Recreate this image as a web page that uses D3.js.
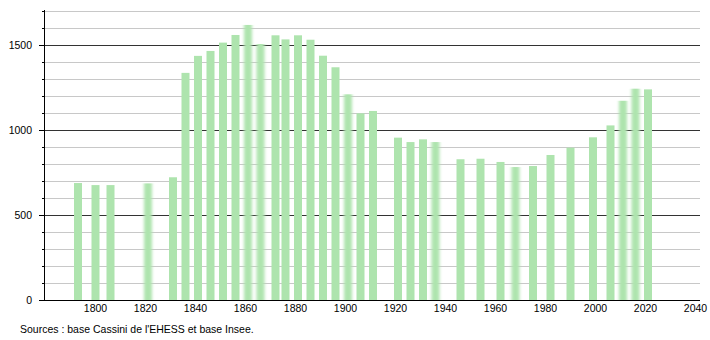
<!DOCTYPE html>
<html><head><meta charset="utf-8">
<script src="https://cdn.jsdelivr.net/npm/d3@7"></script>
<style>
body{margin:0;background:#fff;}
text{font-family:"Liberation Sans",Arial,sans-serif;}
</style></head>
<body>
<svg id="c" width="710" height="340"></svg>
<script>
const years = [1793,1800,1806,1821,1831,1836,1841,1846,1851,1856,1861,1866,1872,1876,1881,1886,1891,1896,1901,1906,1911,1921,1926,1931,1936,1946,1954,1962,1968,1975,1982,1990,1999,2006,2011,2016,2021];
const population = [688,676,676,686,722,1336,1436,1465,1514,1559,1618,1506,1557,1533,1557,1531,1437,1369,1210,1098,1112,955,929,945,929,828,831,812,782,788,853,896,957,1027,1172,1243,1239];
const xTicks = [1800,1820,1840,1860,1880,1900,1920,1940,1960,1980,2000,2020,2040];
const yTicks = [0,500,1000,1500];
const softYears = [1821,1861,1866,1901,1936,1968,2011,2016];
const sourceText = "Sources : base Cassini de l'EHESS et base Insee.";

const svg = d3.select("#c");
const x = d3.scaleLinear().domain([1780,2040]).range([45.5,695.5]);
const y = d3.scaleLinear().domain([0,1700]).range([300,11]);
const left = 44, right = 700;

const defs = svg.append("defs");
defs.append("filter").attr("id","soft").attr("x","-50%").attr("width","200%")
  .append("feGaussianBlur").attr("stdDeviation","1.6 0");

// gridlines
const minor = d3.range(100,1701,100).filter(v=>v%500!==0);
svg.append("g").selectAll("line").data(minor).join("line")
  .attr("x1",left).attr("x2",right).attr("y1",d=>Math.round(y(d))+0.5).attr("y2",d=>Math.round(y(d))+0.5)
  .attr("stroke","#c8c8c8").attr("stroke-width",1);
svg.append("g").selectAll("line").data(yTicks.filter(v=>v>0)).join("line")
  .attr("x1",left).attr("x2",right).attr("y1",d=>Math.round(y(d))+0.5).attr("y2",d=>Math.round(y(d))+0.5)
  .attr("stroke","#333").attr("stroke-width",1);

// bars
const data = years.map((yr,i)=>({yr, v:population[i]}));
svg.append("g").selectAll("rect").data(data).join("rect")
  .attr("x",d=>x(d.yr)-4).attr("width",8)
  .attr("y",d=>y(d.v)).attr("height",d=>y(0)-y(d.v))
  .attr("fill","#aee4ae")
  .attr("filter",d=>softYears.includes(d.yr)?"url(#soft)":null);

// y axis
const yMinorTicks = d3.range(0,1701,100);
svg.append("line").attr("x1",left+0.5).attr("x2",left+0.5).attr("y1",10).attr("y2",300).attr("stroke","#000");
svg.append("g").selectAll("line").data(yMinorTicks).join("line")
  .attr("x1",d=>d%500===0?left-5:left-2).attr("x2",left)
  .attr("y1",d=>Math.round(y(d))+0.5).attr("y2",d=>Math.round(y(d))+0.5).attr("stroke","#000");
svg.append("g").selectAll("text").data(yTicks).join("text")
  .attr("x",32).attr("y",d=>y(d)).attr("dy","0.35em").attr("text-anchor","end")
  .attr("font-size","10.5px").attr("fill","#000").text(d=>d);

// x axis
svg.append("line").attr("x1",left).attr("x2",right).attr("y1",300.5).attr("y2",300.5).attr("stroke","#000");
svg.append("g").selectAll("text").data(xTicks).join("text")
  .attr("x",d=>x(d)).attr("y",308).attr("dy","0.35em").attr("text-anchor","middle")
  .attr("font-size","10.5px").attr("fill","#000").text(d=>d);

svg.append("text").attr("x",20).attr("y",329).attr("dy","0.35em")
  .attr("font-size","10.5px").attr("fill","#000").text(sourceText);
</script>
</body></html>
